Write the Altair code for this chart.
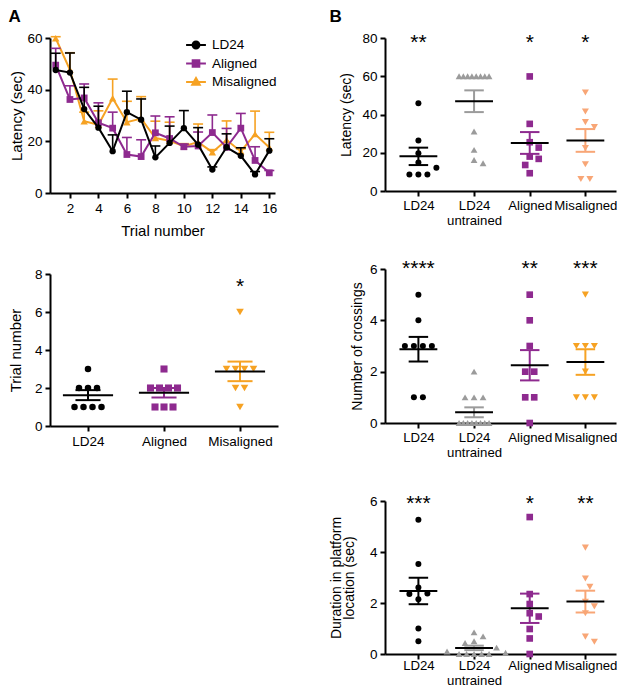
import math
import altair as alt
import numpy as np
import pandas as pd

FONT = "Liberation Sans"
BLACK = "#000000"
PURPLE = "#8E2A8F"
ORANGE = "#F6A223"
SALMON = "#F8A676"
GRAY = "#9B9B9B"

# ---------------- Panel A (top): latency across trials ----------------
trials = [1, 2, 3, 4, 5, 6, 7, 8, 9, 10, 11, 12, 13, 14, 15, 16]
series = ["LD24", "Aligned", "Misaligned"]
lat_ld24 = [47.6, 46.6, 32.5, 25.3, 16.2, 31.3, 28.4, 13.8, 19.4, 25.1, 18.7, 9.1, 17.7, 14.4, 7.2, 16.4]
sem_ld24 = [6.5, 7.6, 8.4, 8.3, 6.3, 8.1, 8.0, 4.4, 6.5, 6.8, 6.6, 1.0, 5.2, 3.1, 1.1, 4.6]
lat_aligned = [49.5, 36.2, 36.8, 27.2, 25.1, 14.9, 14.1, 23.3, 21.1, 17.9, 18.2, 23.4, 17.7, 25.1, 12.6, 7.8]
sem_aligned = [6.5, 5.3, 5.4, 7.7, 6.2, 6.6, 6.5, 6.5, 8.4, 1.0, 5.4, 6.8, 7.3, 5.7, 5.3, 0.9]
lat_mis = [59.9, 47.7, 27.8, 26.4, 36.7, 27.4, 28.8, 21.3, 20.2, 18.1, 19.7, 15.8, 20.5, 16.1, 22.8, 17.6]
sem_mis = [0.6, 6.6, 3.5, 5.4, 7.4, 8.1, 8.5, 6.5, 7.2, 1.0, 7.0, 1.0, 7.4, 1.0, 8.9, 5.9]

# ---------------- Panel A (bottom): trial number ----------------
a_groups = [["LD24"], ["Aligned"], ["Misaligned"]]
a_ld24 = [3, 2, 2, 2, 1, 1, 1, 1]
a_aligned = [3, 2, 2, 2, 2, 1, 1, 1]
a_mis = [6, 3, 3, 3, 3, 2, 2, 1]
a_stars = ["", "", "*"]

# ---------------- Panel B ----------------
b_groups = [["LD24"], ["LD24", "untrained"], ["Aligned"], ["Misaligned"]]
lat_b_ld24 = [45.9, 26.4, 19.7, 14.9, 12.2, 8.6, 8.6, 8.6]
lat_b_untr = [60, 60, 60, 60, 60, 60, 60, 60, 31.1, 21.5, 16.2, 14.5]
lat_b_aligned = [59.9, 35.1, 25.5, 22.7, 18.0, 16.8, 13.6, 9.3]
lat_b_mis = [51.5, 41.6, 36.0, 33.4, 22.4, 14.0, 6.3, 6.3]
lat_b_stars = ["**", "", "*", "*"]

cross_ld24 = [5, 4, 3, 3, 3, 3, 1, 1]
cross_untr = [2, 1, 1, 1, 0, 0, 0, 0, 0, 0, 0, 0]
cross_aligned = [5, 4, 3, 2, 2, 1, 1, 0]
cross_mis = [5, 3, 3, 3, 2, 1, 1, 1]
cross_stars = ["****", "", "**", "***"]

dur_ld24 = [5.26, 3.53, 2.61, 2.37, 2.35, 2.15, 1.0, 0.5]
dur_untr = [0.85, 0.69, 0.5, 0.43, 0.25, 0.1, 0.05, 0, 0, 0, 0, 0]
dur_aligned = [5.37, 2.35, 1.96, 1.6, 1.47, 0.98, 0.61, 0.0]
dur_mis = [4.17, 2.96, 2.63, 2.05, 1.87, 1.6, 0.68, 0.48]
dur_stars = ["***", "", "*", "**"]


def swarm(vals, ppu, d=9.0, maxw=30.0):
    """Horizontal offsets (px) so that markers do not overlap (simple beeswarm)."""
    n = len(vals)
    off = [0.0] * n
    groups = {}
    for i, v in enumerate(vals):
        groups.setdefault(v, []).append(i)
    placed = []
    multi = [v for v in groups if len(groups[v]) > 1]
    single = sorted([v for v in groups if len(groups[v]) == 1], reverse=True)
    for v in multi:
        idx = groups[v]
        m = len(idx)
        step = min(d, maxw / (m - 1))
        for k, i in enumerate(idx):
            off[i] = (k - (m - 1) / 2) * step
            placed.append((v * ppu, off[i]))
    cands = [0.0]
    for k in range(1, 12):
        cands += [k * d / 2, -k * d / 2]
    for v in single:
        y = v * ppu
        chosen = cands[-1]
        for c in cands:
            if all((y - py) ** 2 + (c - px) ** 2 >= (d * 0.95) ** 2 for py, px in placed):
                chosen = c
                break
        off[groups[v][0]] = chosen
        placed.append((y, chosen))
    return off


def scatter_panel(labels, values, colors, shapes, sizes, stars, star_y, ymax, yticks,
                  ytitle, width, height, xdom, mean_half, cap_half, ytitle_pad, ytitle_fs,
                  label_pad=3, label_fs=13.5):
    n = len(labels)
    ppu = height / ymax
    step = width / (xdom[1] - xdom[0])
    keys = [f"g{i}" for i in range(n)]
    pts, summ, caps = [], [], []
    for i, vals in enumerate(values):
        offs = swarm(vals, ppu)
        for v, o in zip(vals, offs):
            pts.append({"g": keys[i], "v": v, "xp": i + o / step})
        m = float(np.mean(vals))
        s = float(np.std(vals, ddof=1) / math.sqrt(len(vals)))
        summ.append({"g": keys[i], "i": i, "mean": m, "lo": m - s, "hi": m + s,
                     "ml": i - mean_half, "mr": i + mean_half, "star": stars[i], "sy": star_y})
        for yv in (m - s, m + s):
            caps.append({"g": keys[i], "y": yv, "cl": i - cap_half, "cr": i + cap_half})
    pts = pd.DataFrame(pts)
    summ = pd.DataFrame(summ)
    caps = pd.DataFrame(caps)

    lab_js = "[" + ",".join("[" + ",".join(f"'{t}'" for t in l) + "]" for l in labels) + "][datum.value]"
    xs = alt.Scale(domain=xdom, nice=False, zero=False)
    ys = alt.Scale(domain=[0, ymax], nice=False, zero=False)
    xaxis = alt.Axis(values=list(range(n)), labelExpr=lab_js, labelLineHeight=15,
                     labelOverlap=False, labelPadding=label_pad, labelFontSize=label_fs, grid=False)
    yaxis = alt.Axis(values=yticks, grid=False, titlePadding=ytitle_pad,
                     titleFontSize=ytitle_fs, titleLineHeight=13, labelPadding=3)

    def X(f):
        return alt.X(f, scale=xs, axis=xaxis, title=None)

    def Y(f):
        return alt.Y(f, scale=ys, axis=yaxis, title=ytitle)

    layers = []
    for i in range(n):
        layers.append(
            alt.Chart(pts).transform_filter(f"datum.g == '{keys[i]}'")
            .mark_point(filled=True, opacity=1, shape=shapes[i], size=sizes[i], color=colors[i])
            .encode(x=X("xp:Q"), y=Y("v:Q"))
        )
    for i in range(n):
        layers.append(
            alt.Chart(summ).transform_filter(f"datum.g == '{keys[i]}'")
            .mark_rule(strokeWidth=2, color=colors[i])
            .encode(x=X("i:Q"), y=Y("lo:Q"), y2="hi:Q")
        )
        layers.append(
            alt.Chart(caps).transform_filter(f"datum.g == '{keys[i]}'")
            .mark_rule(strokeWidth=2, color=colors[i])
            .encode(x=X("cl:Q"), x2="cr:Q", y=Y("y:Q"))
        )
    layers.append(
        alt.Chart(summ).mark_rule(strokeWidth=2, color=BLACK)
        .encode(x=X("ml:Q"), x2="mr:Q", y=Y("mean:Q"))
    )
    layers.append(
        alt.Chart(summ).mark_text(fontSize=21, font=FONT, baseline="middle", dy=3, color=BLACK)
        .encode(x=X("i:Q"), y=Y("sy:Q"), text="star:N")
    )
    return alt.layer(*layers).properties(width=width, height=height)


# ---------------- Build panel A top ----------------
rows = []
for name, means, sems in zip(series, [lat_ld24, lat_aligned, lat_mis], [sem_ld24, sem_aligned, sem_mis]):
    for t, m, s in zip(trials, means, sems):
        rows.append({"trial": t, "series": name, "mean": m, "top": m + s,
                     "cl": t - 0.35, "cr": t + 0.35})
dfA = pd.DataFrame(rows)

a_colors = {"LD24": BLACK, "Aligned": PURPLE, "Misaligned": ORANGE}
a_shapes = {"LD24": "circle", "Aligned": "square", "Misaligned": "triangle-up"}
a_sizes = {"LD24": 40, "Aligned": 46, "Misaligned": 55}

xsA = alt.Scale(domain=[0.6, 16.4], nice=False, zero=False)
ysA = alt.Scale(domain=[0, 60], nice=False)
xaxA = alt.Axis(values=[2, 4, 6, 8, 10, 12, 14, 16], grid=False, labelPadding=3,
                titlePadding=9, titleFontSize=15)
yaxA = alt.Axis(values=[0, 20, 40, 60], grid=False, labelPadding=3, titlePadding=2,
                titleFontSize=15)


def XA(f):
    return alt.X(f, scale=xsA, axis=xaxA, title="Trial number")


def YA(f):
    return alt.Y(f, scale=ysA, axis=yaxA, title="Latency (sec)")


layersA = []
for name in ["Misaligned", "Aligned", "LD24"]:
    base = alt.Chart(dfA).transform_filter(f"datum.series == '{name}'")
    c = a_colors[name]
    layersA.append(base.mark_rule(strokeWidth=1.6, color=c).encode(x=XA("trial:Q"), y=YA("mean:Q"), y2="top:Q"))
    layersA.append(base.mark_rule(strokeWidth=1.6, color=c).encode(x=XA("cl:Q"), x2="cr:Q", y=YA("top:Q")))
    layersA.append(base.mark_line(strokeWidth=2, color=c).encode(x=XA("trial:Q"), y=YA("mean:Q")))
    layersA.append(base.mark_point(filled=True, opacity=1, shape=a_shapes[name], size=a_sizes[name], color=c)
                   .encode(x=XA("trial:Q"), y=YA("mean:Q")))

leg_paths = [
    "M-1.1,0H1.1M0.38,0A0.38,0.38,0,1,1,-0.38,0A0.38,0.38,0,1,1,0.38,0Z",
    "M-1.1,0H1.1M-0.37,-0.37H0.37V0.37H-0.37Z",
    "M-1.1,0H1.1M0,-0.45L0.42,0.3H-0.42Z",
]
leg_colors = [BLACK, PURPLE, ORANGE]
legend = alt.Legend(title=None, orient="none", legendX=136, legendY=-3, padding=0,
                    symbolSize=324, symbolStrokeWidth=2, symbolOpacity=1, labelFontSize=13.5,
                    labelFont=FONT, labelOffset=6, rowPadding=0.5, labelColor=BLACK)
layersA.append(
    alt.Chart(dfA).transform_filter("false")
    .mark_point(filled=True, opacity=1, size=324, strokeWidth=2)
    .encode(
        x=XA("trial:Q"), y=YA("mean:Q"),
        fill=alt.Fill("series:N", scale=alt.Scale(domain=series, range=leg_colors), legend=legend),
        stroke=alt.Stroke("series:N", scale=alt.Scale(domain=series, range=leg_colors), legend=legend),
        shape=alt.Shape("series:N", scale=alt.Scale(domain=series, range=leg_paths), legend=legend),
    )
)
A1 = alt.layer(*layersA).properties(width=225, height=155)

A2 = scatter_panel(a_groups, [a_ld24, a_aligned, a_mis], [BLACK, PURPLE, ORANGE],
                   ["circle", "square", "triangle-down"], [42, 50, 58], a_stars, 7.5, 8,
                   [0, 2, 4, 6, 8], "Trial number", 228, 152, [-0.5, 2.5], 0.33, 0.165, 11, 15)

b_colors_lat = [BLACK, GRAY, PURPLE, SALMON]
b_colors_cross = [BLACK, GRAY, PURPLE, ORANGE]
b_shapes = ["circle", "triangle-up", "square", "triangle-down"]
b_sizes = [36, 46, 44, 50]
b_xdom = [-0.6, 3.55]

B1 = scatter_panel(b_groups, [lat_b_ld24, lat_b_untr, lat_b_aligned, lat_b_mis], b_colors_lat,
                   b_shapes, b_sizes, lat_b_stars, 79, 80, [0, 20, 40, 60, 80], "Latency (sec)",
                   231, 153, b_xdom, 0.34, 0.175, 8, 14, label_fs=13.2)
B2 = scatter_panel(b_groups, [cross_ld24, cross_untr, cross_aligned, cross_mis], b_colors_cross,
                   b_shapes, b_sizes, cross_stars, 6.1, 6, [0, 2, 4, 6], "Number of crossings",
                   231, 154, b_xdom, 0.34, 0.175, 5, 14, label_fs=13.2)
B3 = scatter_panel(b_groups, [dur_ld24, dur_untr, dur_aligned, dur_mis], b_colors_lat,
                   b_shapes, b_sizes, dur_stars, 6.0, 6, [0, 2, 4, 6],
                   ["Duration in platform", "location (sec)"],
                   231, 153, b_xdom, 0.34, 0.175, 13, 14, label_pad=0, label_fs=13.2)

title_kw = dict(anchor="start", fontSize=17, fontWeight="bold", font=FONT, color=BLACK, offset=5)
colA = alt.vconcat(A1, A2, spacing=81, bounds="flush").properties(title=alt.TitleParams("A", **title_kw))
colB = alt.vconcat(B1, B2, B3, spacing=78, bounds="flush").properties(title=alt.TitleParams("B", **title_kw))

chart = (
    alt.hconcat(colA, colB, spacing=51)
    .properties(padding={"left": 0, "top": 0, "right": 0, "bottom": 0})
    .configure(font=FONT)
    .configure_view(stroke=None)
    .configure_axis(domainColor=BLACK, domainWidth=2, tickColor=BLACK, tickWidth=2, tickSize=5,
                    labelColor=BLACK, labelFont=FONT, labelFontSize=13.5, titleColor=BLACK,
                    titleFont=FONT, titleFontSize=14.5, titleFontWeight="normal", grid=False)
)

chart.save("out.html", embed_options={"renderer": "svg", "actions": False})
